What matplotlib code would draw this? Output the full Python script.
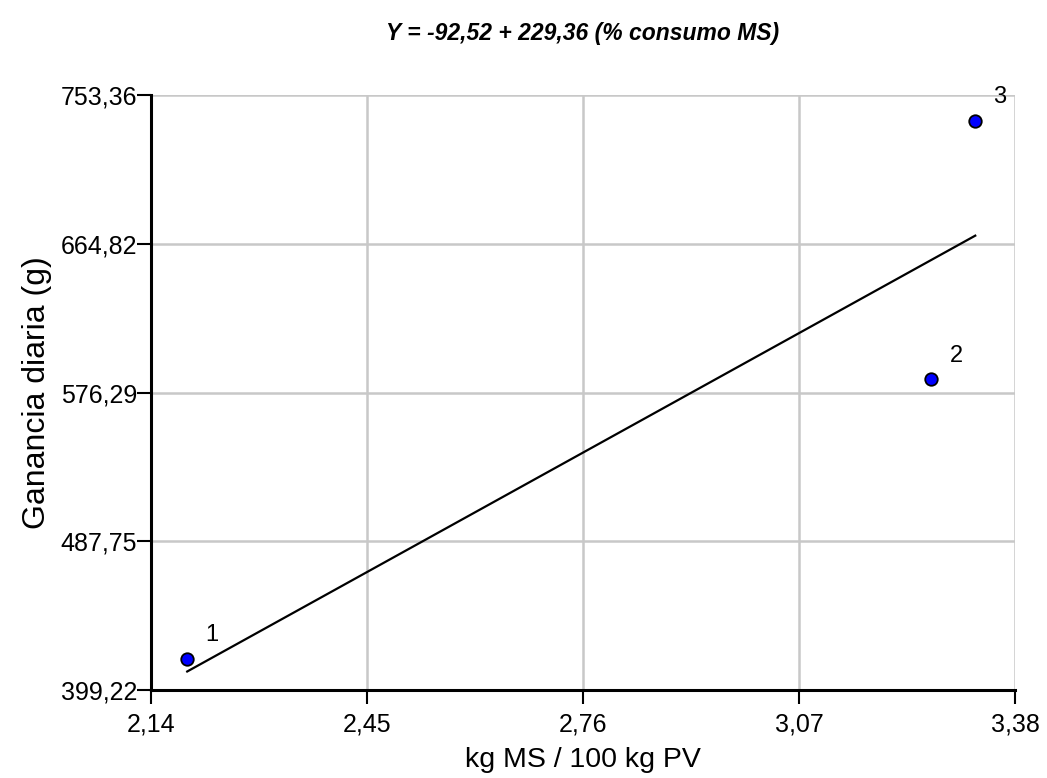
import matplotlib.pyplot as plt

plt.switch_backend("Agg")
plt.rcParams["font.family"] = ["Liberation Sans", "DejaVu Sans"]

# data
point_ids = ["1", "2", "3"]
consumo_ms = [2.192, 3.260, 3.323]
ganancia = [417.7, 584.1, 737.9]

intercept = -92.52
slope = 229.36

x_ticks = [2.14, 2.45, 2.76, 3.07, 3.38]
x_tick_labels = ["2,14", "2,45", "2,76", "3,07", "3,38"]
y_ticks = [399.22, 487.75, 576.29, 664.82, 753.36]
y_tick_labels = ["399,22", "487,75", "576,29", "664,82", "753,36"]


def main() -> None:
    fig = plt.figure(figsize=(10.47, 7.78), dpi=100)
    ax = fig.add_axes([0.1442, 0.1131, 0.8252, 0.7648])

    x_line = [min(consumo_ms), max(consumo_ms)]
    y_line = [intercept + slope * v for v in x_line]
    ax.plot(x_line, y_line, color="black", linewidth=1.6, zorder=3)

    ax.plot(
        consumo_ms, ganancia,
        linestyle="none", marker="o", markersize=9,
        markerfacecolor="#0000ff", markeredgecolor="black", markeredgewidth=1.3,
        zorder=4, clip_on=False,
    )
    for label, xv, yv in zip(point_ids, consumo_ms, ganancia):
        ax.annotate(label, (xv, yv), xytext=(13, 9), textcoords="offset points",
                    fontsize=17, ha="left", va="bottom", annotation_clip=False)

    ax.set_xlim(x_ticks[0], x_ticks[-1])
    ax.set_ylim(y_ticks[0], y_ticks[-1])
    ax.set_xticks(x_ticks)
    ax.set_xticklabels(x_tick_labels)
    ax.set_yticks(y_ticks)
    ax.set_yticklabels(y_tick_labels)
    ax.tick_params(axis="x", direction="out", length=10, width=1.5, labelsize=18, pad=6)
    ax.tick_params(axis="y", direction="out", length=10, width=1.5, labelsize=18, pad=0)

    ax.grid(True, color="#c8c8c8", linewidth=1.8)
    ax.set_axisbelow(True)
    for side in ["top", "right"]:
        ax.spines[side].set_visible(False)
    for side in ["left", "bottom"]:
        ax.spines[side].set_linewidth(2.2)
        ax.spines[side].set_zorder(5)

    ax.set_xlabel("kg MS / 100 kg PV", fontsize=20.5, labelpad=8)
    ax.set_ylabel("Ganancia diaria (g)", fontsize=23, labelpad=6)
    fig.text(0.556, 0.957, "Y = -92,52 + 229,36 (% consumo MS)", fontsize=16.5,
             fontweight="bold", fontstyle="italic", ha="center", va="center")

    fig.savefig("out.png", dpi=100)
    plt.close(fig)


if __name__ == "__main__":
    main()
